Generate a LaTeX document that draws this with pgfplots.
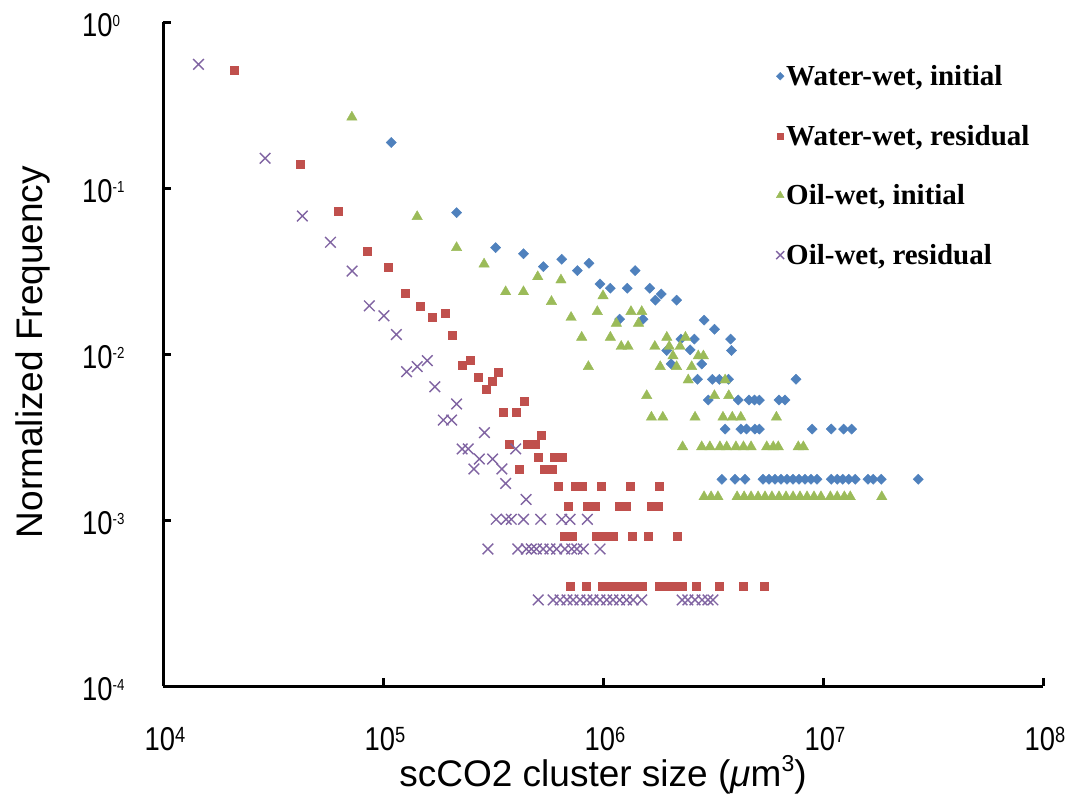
\documentclass[border=0pt]{standalone}
\usepackage{fontspec}
\setmainfont{Liberation Sans}
\newfontfamily\legfont{Liberation Serif}
\usepackage{graphicx}
\usepackage{pgfplots}
\pgfplotsset{compat=1.18}
\definecolor{cblue}{HTML}{4F81BD}
\definecolor{cred}{HTML}{C0504D}
\definecolor{cgreen}{HTML}{9BBB59}
\definecolor{cpurple}{HTML}{8064A2}
\newcommand{\xtl}[1]{\scalebox{0.83}[1]{10\raisebox{8pt}{\fontsize{22}{22}\selectfont #1}}}
\newcommand{\ytl}[1]{\scalebox{0.83}[1]{10\raisebox{10pt}{\fontsize{16}{16}\selectfont #1}}}
\begin{document}
\begin{tikzpicture}
\useasboundingbox (-163pt,-117pt) rectangle (913pt,686pt);
\begin{axis}[
  scale only axis, width=880pt, height=664pt,
  at={(0pt,0pt)}, anchor=south west,
  xmode=log, ymode=log, xmin=1e4, xmax=1e8, ymin=1e-4, ymax=1,
  axis x line*=bottom, axis y line*=left,
  axis line style={-, line width=3pt, black},
  xminorticks=false, yminorticks=false,
  tick align=inside, major tick length=8pt,
  tick style={line width=3pt, black},
  xtick={1e4,1e5,1e6,1e7,1e8},
  xticklabels={\xtl{4},\xtl{5},\xtl{6},\xtl{7},\xtl{8}},
  ytick={1e-4,1e-3,1e-2,1e-1,1},
  yticklabels={\ytl{-4},\ytl{-3},\ytl{-2},\ytl{-1},\ytl{0}},
  tick label style={font=\fontsize{33}{38}\selectfont, inner sep=0pt},
  xticklabel style={anchor=north, yshift=-41pt, xshift=2pt},
  yticklabel style={anchor=west, xshift=-81pt, yshift=-3pt},
  xlabel={scCO2 cluster size ({\itshape μ}m\raisebox{0.42em}{\fontsize{23}{23}\selectfont 3})},
  ylabel={Normalized Frequency},
  label style={font=\fontsize{37}{43}\selectfont},
  xlabel style={at={(axis description cs:0.5,-0.134)}, anchor=center},
  ylabel style={at={(axis description cs:-0.1477,0.503)}, anchor=center},
  legend style={draw=none, fill=none, at={(0.6932,0.941)}, anchor=north west,
    font=\legfont\bfseries\fontsize{29}{33}\selectfont, row sep=34pt,
    /tikz/every even column/.append style={column sep=20pt}},
  legend cell align=left,
  legend image code/.code={\draw[mark repeat=2,mark phase=2,#1,/tikz/every mark/.append style={scale=0.75}] plot coordinates {(0pt,0pt) (4pt,0pt) (8pt,0pt)};},
  clip=false,
]
\addplot[only marks, mark=square*, mark size=3.6pt, color=cblue, mark options={rotate=45, fill=cblue, draw=cblue}] coordinates {
(1.09e5,0.188) (2.16e5,0.0710) (3.25e5,0.0437) (4.35e5,0.0402) (5.36e5,0.0336)
(6.49e5,0.0372) (7.64e5,0.0318) (8.63e5,0.0352) (1.40e6,0.0318) (9.69e5,0.0264)
(1.08e6,0.0249) (1.29e6,0.0249) (1.63e6,0.0249) (1.84e6,0.0230) (1.73e6,0.0211)
(2.16e6,0.0211) (1.19e6,0.0162) (1.52e6,0.0162) (2.88e6,0.0160) (3.21e6,0.0141)
(3.80e6,0.0123) (3.84e6,0.0105) (2.26e6,0.0123) (2.60e6,0.0123) (2.49e6,0.0106)
(1.95e6,0.0105) (2.04e6,0.00871) (2.81e6,0.00871)
(2.69e6,0.00704) (3.14e6,0.00704) (3.38e6,0.00704) (3.72e6,0.00704) (7.54e6,0.00704)
(3.01e6,0.00528) (4.12e6,0.00528) (4.61e6,0.00528) (4.88e6,0.00528) (5.14e6,0.00528)
(6.31e6,0.00528) (6.72e6,0.00528)
(3.59e6,0.00353) (4.23e6,0.00353) (4.49e6,0.00353) (4.90e6,0.00353) (5.14e6,0.00353)
(8.93e6,0.00353) (1.09e7,0.00353) (1.24e7,0.00353) (1.35e7,0.00353)
(3.47e6,0.00176) (3.98e6,0.00176) (4.42e6,0.00176) (5.34e6,0.00176) (5.68e6,0.00176)
(6.05e6,0.00176) (6.44e6,0.00176) (6.86e6,0.00176) (7.31e6,0.00176) (7.78e6,0.00176)
(8.28e6,0.00176) (8.82e6,0.00176) (9.39e6,0.00176) (1.09e7,0.00176) (1.16e7,0.00176)
(1.23e7,0.00176) (1.31e7,0.00176) (1.40e7,0.00176) (1.60e7,0.00176) (1.69e7,0.00176)
(1.84e7,0.00176) (2.71e7,0.00176)
};
\addlegendentry{Water-wet, initial}
\addplot[only marks, mark=square*, mark size=4pt, color=cred, mark options={fill=cred, draw=cred}] coordinates {
(2.10e4,0.509) (4.20e4,0.139) (6.24e4,0.0727) (8.45e4,0.0417) (1.06e5,0.0333)
(1.26e5,0.0232) (1.47e5,0.0193) (1.68e5,0.0166) (1.91e5,0.0177) (2.07e5,0.0130)
(2.30e5,0.00859) (2.48e5,0.00912) (2.72e5,0.00720) (3.14e5,0.00688) (3.34e5,0.00776)
(2.94e5,0.00613) (3.52e5,0.00449) (4.01e5,0.00449) (4.38e5,0.00523) (5.23e5,0.00325)
(3.75e5,0.00286) (4.50e5,0.00286) (4.91e5,0.00286)
(5.05e5,0.00240) (6.03e5,0.00240) (6.52e5,0.00240)
(4.17e5,0.00202) (5.41e5,0.00202) (5.85e5,0.00202)
(6.27e5,0.00160) (7.45e5,0.00160) (8.04e5,0.00160) (9.80e5,0.00160) (1.33e6,0.00160) (1.80e6,0.00160)
(6.95e5,0.00121) (8.51e5,0.00121) (9.20e5,0.00121) (1.18e6,0.00121) (1.27e6,0.00121) (1.65e6,0.00121) (1.78e6,0.00121)
(6.65e5,0.000804) (7.27e5,0.000804) (9.34e5,0.000804) (1.01e6,0.000804) (1.11e6,0.000804)
(1.36e6,0.000804) (1.60e6,0.000804) (2.18e6,0.000804)
(7.06e5,0.000402) (8.35e5,0.000402) (9.89e5,0.000402) (1.08e6,0.000402) (1.17e6,0.000402)
(1.27e6,0.000402) (1.38e6,0.000402) (1.50e6,0.000402) (1.80e6,0.000402) (1.95e6,0.000402)
(2.13e6,0.000402) (2.29e6,0.000402) (2.65e6,0.000402) (3.39e6,0.000402) (4.33e6,0.000402)
(5.38e6,0.000402)
};
\addlegendentry{Water-wet, residual}
\addplot[only marks, mark=triangle*, mark size=6pt, color=cgreen, mark options={fill=cgreen, draw=cgreen}] coordinates {
(7.22e4,0.267) (1.43e5,0.0672) (2.16e5,0.0437) (2.88e5,0.0348) (5.05e5,0.0292)
(3.61e5,0.0237) (4.35e5,0.0237) (5.83e5,0.0207) (6.44e5,0.0279) (7.16e5,0.0166)
(8.0e5,0.0126) (8.58e5,0.00839) (9.42e5,0.0180) (1.0e6,0.0224) (1.08e6,0.0126)
(1.15e6,0.0153) (1.21e6,0.0111) (1.30e6,0.0111) (1.34e6,0.0180) (1.45e6,0.0153)
(1.50e6,0.0180) (1.58e6,0.00561) (1.66e6,0.00416) (1.72e6,0.0111) (1.82e6,0.00839)
(1.87e6,0.00416) (1.95e6,0.0126) (2.0e6,0.0111) (2.08e6,0.00973) (2.16e6,0.00839)
(2.24e6,0.0111) (2.37e6,0.0126) (2.44e6,0.00697) (2.53e6,0.00839) (2.62e6,0.00416)
(2.71e6,0.00973) (2.86e6,0.00973) (3.21e6,0.00561) (3.59e6,0.00697) (3.73e6,0.00561)
(3.51e6,0.00416) (3.87e6,0.00416) (4.23e6,0.00416) (6.14e6,0.00416)
(2.30e6,0.00276) (2.81e6,0.00276) (3.06e6,0.00276) (3.40e6,0.00276) (3.65e6,0.00276)
(4.02e6,0.00276) (4.35e6,0.00276) (4.71e6,0.00276) (5.55e6,0.00276) (5.94e6,0.00276)
(6.26e6,0.00276) (7.72e6,0.00276) (8.14e6,0.00276)
(2.88e6,0.00138) (3.10e6,0.00138) (3.33e6,0.00138) (4.07e6,0.00138) (4.38e6,0.00138)
(4.71e6,0.00138) (5.07e6,0.00138) (5.45e6,0.00138) (5.86e6,0.00138) (6.31e6,0.00138)
(6.79e6,0.00138) (7.31e6,0.00138) (7.86e6,0.00138) (8.46e6,0.00138) (9.10e6,0.00138)
(9.79e6,0.00138) (1.08e7,0.00138) (1.16e7,0.00138) (1.25e7,0.00138) (1.33e7,0.00138)
(1.85e7,0.00138)
};
\addlegendentry{Oil-wet, initial}
\addplot[only marks, mark=x, mark size=7.5pt, color=cpurple, mark options={line width=1.4pt}] coordinates {
(1.45e4,0.556) (2.91e4,0.151) (4.30e4,0.0678) (5.77e4,0.0471) (7.24e4,0.0316)
(8.67e4,0.0195) (1.01e5,0.0170) (1.15e5,0.0131) (1.28e5,0.00782) (1.43e5,0.00839)
(1.59e5,0.00912) (1.72e5,0.00635) (2.16e5,0.00500) (1.88e5,0.00400) (2.05e5,0.00400)
(2.89e5,0.00336) (2.29e5,0.00268) (2.44e5,0.00268) (4.01e5,0.00268) (2.74e5,0.00233)
(3.15e5,0.00233) (2.59e5,0.00203) (3.47e5,0.00203) (3.61e5,0.00166) (4.47e5,0.00133)
(3.27e5,0.00101) (3.63e5,0.00101) (3.83e5,0.00101) (4.35e5,0.00101) (5.21e5,0.00101)
(6.49e5,0.00101) (7.08e5,0.00101) (8.49e5,0.00101)
(3.0e5,0.000669) (4.10e5,0.000669) (4.48e5,0.000669) (4.72e5,0.000669) (4.98e5,0.000669)
(5.34e5,0.000669) (5.74e5,0.000669) (6.15e5,0.000669) (6.71e5,0.000669) (7.21e5,0.000669)
(7.60e5,0.000669) (8.14e5,0.000669) (9.69e5,0.000669)
(5.08e5,0.000330) (5.93e5,0.000330) (6.38e5,0.000330) (6.86e5,0.000330) (7.31e5,0.000330)
(7.86e5,0.000330) (8.45e5,0.000330) (9.01e5,0.000330) (9.69e5,0.000330) (1.04e6,0.000330)
(1.11e6,0.000330) (1.19e6,0.000330) (1.28e6,0.000330) (1.37e6,0.000330) (1.50e6,0.000330)
(2.29e6,0.000330) (2.43e6,0.000330) (2.62e6,0.000330) (2.82e6,0.000330) (3.00e6,0.000330)
(3.16e6,0.000330)
};
\addlegendentry{Oil-wet, residual}
\end{axis}
\end{tikzpicture}
\end{document}
